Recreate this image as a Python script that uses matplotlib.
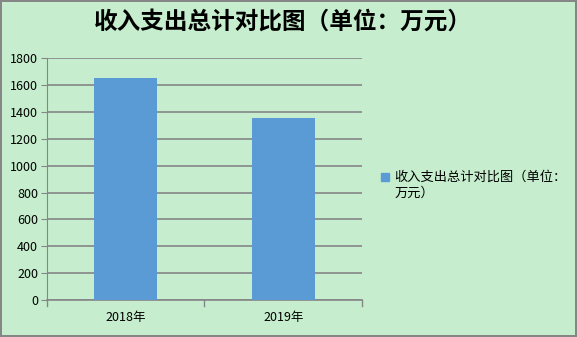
import matplotlib.pyplot as plt
from matplotlib.patches import Rectangle

plt.rcParams['font.family'] = ['Noto Sans CJK SC', 'DejaVu Sans']

categories = ["2018年", "2019年"]
values = [1653, 1355]
series_name = "收入支出总计对比图（单位：万元）"
yticks = [0, 200, 400, 600, 800, 1000, 1200, 1400, 1600, 1800]

bg = "#C6EECE"
grid = "#868686"
bar_color = "#5B9BD5"

fig = plt.figure(figsize=(5.77, 3.37), dpi=100, facecolor=bg,
                 edgecolor=grid, linewidth=1.5)
ax = fig.add_axes([0.0806, 0.1098, 0.547, 0.717], facecolor=bg)

x = list(range(len(categories)))
ax.bar(x, values, width=0.4, color=bar_color, zorder=3)

ax.set_xlim(-0.5, len(categories) - 0.5)
ax.set_ylim(0, 1800)
ax.set_yticks(yticks)
ax.set_xticks(x)
ax.set_xticklabels(categories, fontsize=9)
ax.tick_params(axis="y", labelsize=9, length=4, color=grid, pad=2)
ax.tick_params(axis="x", length=0, pad=8)
# tick marks between categories
for b in [-0.5, 0.5, 1.5]:
    ax.plot([b, b], [0, -0.025], transform=ax.get_xaxis_transform(),
            color=grid, lw=1, clip_on=False)

ax.grid(axis="y", color=grid, lw=1.2, zorder=0)
for s in ["top", "right"]:
    ax.spines[s].set_visible(False)
ax.spines["left"].set_color(grid)
ax.spines["bottom"].set_color(grid)
ax.spines["bottom"].set_linewidth(1.2)

fig.text(0.49, 0.935, series_name, ha="center", va="center",
         fontsize=17, fontweight="bold")

# legend, Excel style: marker lines up with the first text line
fig.patches.append(Rectangle((0.660, 0.463), 0.0139, 0.0237,
                             transform=fig.transFigure, color=bar_color))
fig.text(0.684, 0.475, series_name[:13], ha="left", va="center", fontsize=9.5)
fig.text(0.684, 0.427, series_name[13:], ha="left", va="center", fontsize=9.5)

fig.savefig("out.png", dpi=100, facecolor=bg, edgecolor=grid)
